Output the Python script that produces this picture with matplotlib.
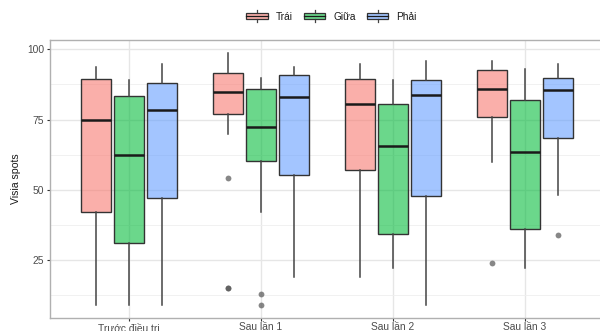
import matplotlib
matplotlib.use("Agg")
import matplotlib.pyplot as plt
from matplotlib.patches import Rectangle
from matplotlib.lines import Line2D
from matplotlib.legend_handler import HandlerBase
from matplotlib.colors import to_rgb
import numpy as np

plt.rcParams['font.family'] = ['Liberation Sans', 'DejaVu Sans']

categories = ["Trước điều trị", "Sau lần 1", "Sau lần 2", "Sau lần 3"]
groups = ["Trái", "Giữa", "Phải"]
colors = ["#F8766D", "#00BA38", "#619CFF"]

# five-number summaries per group: [whislo, q1, median, q3, whishi] per category
trai = [[9.0, 42.1, 74.9, 89.3, 93.8],
        [69.9, 77.1, 84.8, 91.7, 98.8],
        [19.1, 56.9, 80.5, 89.3, 94.8],
        [59.9, 75.9, 85.9, 92.7, 95.8]]
giua = [[9.0, 31.1, 62.5, 83.3, 88.9],
        [42.1, 60.1, 72.4, 85.7, 89.7],
        [22.0, 34.3, 65.4, 80.4, 88.9],
        [22.0, 36.2, 63.4, 82.0, 92.9]]
phai = [[9.0, 47.1, 78.4, 88.1, 94.8],
        [19.1, 55.4, 83.0, 90.9, 93.7],
        [9.0, 47.6, 83.9, 88.9, 95.8],
        [48.0, 68.5, 85.5, 89.9, 94.8]]
outliers_trai = [[], [54.0, 15.0, 15.0], [], [24.0]]
outliers_giua = [[], [13.0, 9.0], [], []]
outliers_phai = [[], [], [], [34.0]]

series = [trai, giua, phai]
outliers = [outliers_trai, outliers_giua, outliers_phai]
fill_alpha = 0.58


def translucent(col, alpha=fill_alpha):
    return (*to_rgb(col), alpha)


fig = plt.figure(figsize=(6.0, 3.31), dpi=100)
ax = fig.add_axes([50/600, 13.3/331, 554/600, 277.7/331])

dodge = 0.25
box_w = 0.227
edge = "#333333"

for gi, (stats5, outs, col) in enumerate(zip(series, outliers, colors)):
    positions = np.arange(len(categories)) + (gi - 1) * dodge
    stats = []
    for s, o in zip(stats5, outs):
        stats.append(dict(whislo=s[0], q1=s[1], med=s[2], q3=s[3], whishi=s[4],
                          fliers=o))
    ax.bxp(stats, positions=positions, widths=box_w, patch_artist=True,
           showcaps=False, manage_ticks=False,
           boxprops=dict(facecolor=translucent(col), edgecolor=edge, linewidth=1.0),
           whiskerprops=dict(color="#444444", linewidth=1.1),
           medianprops=dict(color="#1a1a1a", linewidth=1.8),
           flierprops=dict(marker="o", markerfacecolor="#555555", markeredgecolor="none",
                           markersize=4.2, alpha=0.7),
           zorder=3)

ax.set_xlim(-0.6, 3.6)
ax.set_ylim(4.45, 103.3)
ax.set_xticks(range(len(categories)))
ax.set_xticklabels(categories)
ax.set_yticks([25, 50, 75, 100])
ax.set_yticks([12.5, 37.5, 62.5, 87.5], minor=True)
ax.grid(True, which="major", color="#e6e6e6", linewidth=1.0, zorder=0)
ax.grid(True, which="minor", axis="y", color="#efefef", linewidth=0.6, zorder=0)
ax.set_axisbelow(True)
ax.tick_params(axis="both", which="major", labelsize=7.4, labelcolor="#4d4d4d",
               color="#333333", length=2.2, width=0.8)
ax.tick_params(axis="x", which="major", pad=1.0)
ax.tick_params(axis="y", which="major", pad=2)
ax.tick_params(axis="both", which="minor", length=0)
ax.set_ylabel("Visia spots", fontsize=7.6, color="#1a1a1a")
ax.yaxis.set_label_coords(-29/554, 0.5)
for sp in ax.spines.values():
    sp.set_color("#b0b0b0")
    sp.set_linewidth(1.0)


class BoxKeyHandler(HandlerBase):
    def create_artists(self, legend, orig_handle, xdescent, ydescent, width, height,
                       fontsize, trans):
        cx = width / 2 - xdescent
        r = Rectangle((-xdescent, -ydescent + height * 0.1),
                      width, height * 0.8,
                      facecolor=orig_handle.get_facecolor(), edgecolor=edge,
                      linewidth=0.9, transform=trans)
        med = Line2D([-xdescent, -xdescent + width],
                     [-ydescent + height / 2] * 2, color="#1a1a1a", linewidth=0.9,
                     transform=trans)
        wl = Line2D([cx, cx], [-ydescent - height * 0.2, -ydescent + height * 0.1],
                    color="#444444", linewidth=0.9, transform=trans)
        wh = Line2D([cx, cx], [-ydescent + height * 0.9, -ydescent + height * 1.2],
                    color="#444444", linewidth=0.9, transform=trans)
        return [wl, wh, r, med]


handles = [Rectangle((0, 0), 1, 1, facecolor=translucent(col)) for col in colors]

fig.legend(handles, groups, loc="center", bbox_to_anchor=(0.5525, 1 - 16.5/331),
           ncol=3, frameon=False, fontsize=7.3, handler_map={Rectangle: BoxKeyHandler()},
           handlelength=2.1, handleheight=0.85, columnspacing=1.1, handletextpad=0.8,
           labelcolor="#1a1a1a")

fig.savefig("out.png", dpi=100)
